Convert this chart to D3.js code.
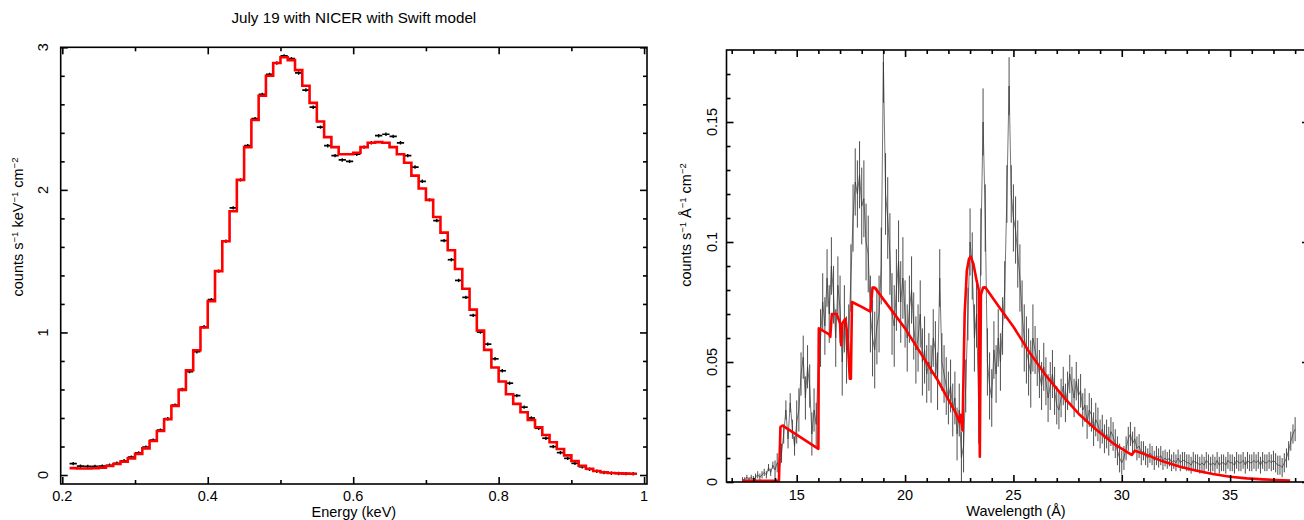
<!DOCTYPE html>
<html><head><meta charset="utf-8">
<script src="https://cdn.jsdelivr.net/npm/d3@7"></script>
<style>
body{margin:0;background:#fff;}
svg{display:block;}
text{font-family:"Liberation Sans",Arial,Helvetica,sans-serif;fill:#000;}
</style>
</head><body>
<svg id="c" width="1304" height="520"></svg>
<script>
// ---------------- LEFT PANEL DATA (NICER, energy bins) ----------------
const titleText = "July 19 with NICER with Swift model";
const energyBinLo = [0.21,0.22,0.23,0.24,0.25,0.26,0.27,0.28,0.29,0.30,0.31,0.32,0.33,0.34,0.35,0.36,0.37,0.38,0.39,0.40,
  0.41,0.42,0.43,0.44,0.45,0.46,0.47,0.48,0.49,0.50,0.51,0.52,0.53,0.54,0.55,0.56,0.57,0.58,0.59,0.60,
  0.61,0.62,0.63,0.64,0.65,0.66,0.67,0.68,0.69,0.70,0.71,0.72,0.73,0.74,0.75,0.76,0.77,0.78,0.79,0.80,
  0.81,0.82,0.83,0.84,0.85,0.86,0.87,0.88,0.89,0.90,0.91,0.92,0.93,0.94,0.95,0.96,0.97,0.98];
const energyBinWidth = 0.01;
const nicerModel = [0.048,0.046,0.046,0.047,0.052,0.063,0.077,0.094,0.117,0.148,0.187,0.239,0.309,0.391,0.485,0.597,0.735,0.875,1.035,1.22,
  1.43,1.64,1.85,2.07,2.30,2.49,2.66,2.80,2.89,2.93,2.91,2.84,2.73,2.61,2.48,2.37,2.30,2.25,2.25,2.26,
  2.30,2.33,2.335,2.33,2.30,2.25,2.19,2.10,2.01,1.93,1.81,1.70,1.576,1.445,1.307,1.16,1.014,0.878,0.754,0.656,
  0.567,0.499,0.44,0.386,0.335,0.281,0.23,0.183,0.138,0.098,0.065,0.044,0.028,0.019,0.014,0.012,0.010,0.009];
const nicerData = [0.08,0.062,0.060,0.060,0.062,0.068,0.082,0.10,0.125,0.155,0.195,0.245,0.315,0.395,0.49,0.60,0.725,0.865,1.04,1.23,
  1.43,1.64,1.874,2.07,2.31,2.50,2.67,2.81,2.89,2.94,2.92,2.82,2.70,2.58,2.44,2.31,2.24,2.21,2.20,2.25,
  2.30,2.33,2.38,2.39,2.375,2.33,2.24,2.16,2.06,1.93,1.785,1.644,1.51,1.365,1.246,1.12,1.003,0.918,0.815,0.731,
  0.644,0.557,0.476,0.40,0.328,0.258,0.199,0.157,0.117,0.082,0.058,0.040,0.027,0.018,0.013,0.011,0.010,0.009];
const nicerErr = 0.012;
const leftXTicks = [0.2,0.4,0.6,0.8,1.0], leftXLabels = ["0.2","0.4","0.6","0.8","1"];
const leftXMinor = [0.3,0.5,0.7,0.9];
const leftYTicks = [0,1,2,3], leftYLabels = ["0","1","2","3"];
const leftYMinor = [0.2,0.4,0.6,0.8,1.2,1.4,1.6,1.8,2.2,2.4,2.6,2.8];

// ---------------- RIGHT PANEL DATA (Swift / grating, wavelength) ----------------
const grayStart = 12.5, grayStep = 0.1;
const grayFlux = [
 0.001,0.001,0.002,0.001,0.002,0.001,0.002,0.003,0.002,0.003,
 0.004,0.003,0.006,0.004,0.007,0.005,0.008,0.006,
 0.012,0.020,0.030,0.018,0.033,0.022,0.015,0.025,
 0.030,0.045,0.052,0.035,0.048,0.040,0.020,0.030,0.024,0.050,
 0.060,0.075,0.065,0.085,0.070,0.090,0.078,0.060,0.082,0.072,
 0.050,0.068,0.055,0.060,0.085,0.110,0.125,0.120,0.128,0.115,
 0.118,0.100,0.095,0.070,0.060,0.055,0.065,0.070,0.090,0.175,
 0.120,0.110,0.095,0.070,0.065,0.080,0.092,0.075,0.085,0.070,
 0.060,0.072,0.080,0.065,0.055,0.060,0.070,0.050,0.055,0.045,
 0.050,0.045,0.060,0.055,0.042,0.085,0.050,0.045,0.040,0.035,
 0.040,0.030,0.035,0.020,0.030,0.010,0.015,0.040,0.070,0.100,
 0.090,0.060,0.070,0.030,0.100,0.150,0.110,0.050,0.040,0.035,
 0.055,0.045,0.060,0.050,0.065,0.080,0.120,0.165,0.120,0.110,
 0.105,0.095,0.085,0.070,0.060,0.055,0.050,0.045,0.060,0.055,
 0.050,0.045,0.040,0.048,0.042,0.035,0.040,0.045,0.038,0.032,
 0.030,0.035,0.040,0.033,0.038,0.045,0.040,0.035,0.042,0.036,
 0.038,0.030,0.032,0.025,0.030,0.028,0.022,0.026,0.024,0.020,
 0.022,0.018,0.020,0.017,0.021,0.019,0.016,0.013,0.010,0.008,
 0.010,0.014,0.018,0.020,0.016,0.018,0.014,0.015,0.012,0.013,
 0.011,0.010,0.012,0.011,0.009,0.011,0.010,0.011,0.009,0.010,
 0.009,0.010,0.008,0.009,0.008,0.010,0.008,0.009,0.009,0.008,
 0.008,0.007,0.009,0.008,0.008,0.007,0.008,0.007,0.009,0.008,
 0.007,0.008,0.007,0.009,0.007,0.008,0.008,0.007,0.009,0.008,
 0.008,0.007,0.009,0.008,0.008,0.009,0.007,0.009,0.008,0.008,
 0.009,0.008,0.009,0.007,0.009,0.008,0.008,0.009,0.008,0.009,
 0.008,0.007,0.007,0.006,0.008,0.010,0.013,0.017,0.020,0.022];
const grayErrByAngstrom = [0.001,0.0015,0.004,0.009,0.012,0.014,0.016,0.017,0.014,0.012,0.011,0.014,0.012,0.014,0.010,0.008,0.007,0.006,0.005,0.004,0.0035,0.0035,0.0035,0.0035,0.0035,0.004,0.005]; // from 12 A
const modelWave = [12.5,14.18,14.25,14.35,16.0,16.02,16.5,16.55,16.62,16.85,17.0,17.05,17.1,17.25,17.35,17.45,17.5,17.55,18.0,18.4,18.5,18.6,
  20.0,21.5,22.35,22.5,22.55,22.65,22.75,22.85,22.95,23.03,23.15,23.3,23.4,23.45,23.5,23.6,23.7,24.38,25.0,25.77,26.54,27.3,28.07,28.84,29.6,
  30.46,30.6,31.15,31.92,32.69,33.46,34.2,35.0,35.77,36.5,37.77];
const modelFlux = [0.0005,0.0005,0.023,0.0235,0.0138,0.064,0.0615,0.0605,0.070,0.070,0.066,0.057,0.066,0.068,0.060,0.043,0.043,0.075,0.073,0.071,0.081,0.081,
  0.064,0.0425,0.0286,0.025,0.028,0.0215,0.070,0.088,0.093,0.0939,0.091,0.084,0.080,0.0105,0.078,0.081,0.0811,0.0724,0.0647,0.0536,0.0439,0.0356,0.0279,0.0217,0.0161,
  0.0113,0.013,0.0113,0.0085,0.0064,0.0047,0.0033,0.0022,0.0015,0.0011,0.0006];
const rightXTicks = [15,20,25,30,35];
const rightXMinor = [12,13,14,16,17,18,19,21,22,23,24,26,27,28,29,31,32,33,34,36,37,38];
const rightYTicks = [0,0.05,0.1,0.15], rightYLabels = ["0","0.05","0.1","0.15"];
const rightYMinor = [0.01,0.02,0.03,0.04,0.06,0.07,0.08,0.09,0.11,0.12,0.13,0.14,0.16,0.17];

// ---------------- DRAWING ----------------
const svg = d3.select("#c");
const FONT = 14.5;

const L = {x0:60.7, x1:647, y0:47.3, y1:484};
const R = {x0:726.5, x1:1309, y0:50, y1:482};
const xL = d3.scaleLinear().domain([0.1978,1.004]).range([L.x0,L.x1]);
const yL = d3.scaleLinear().domain([-0.063,3.0]).range([L.y1,L.y0]);
const xR = d3.scaleLinear().domain([11.76,38.64]).range([R.x0,R.x1]);
const yR = d3.scaleLinear().domain([0,0.18]).range([R.y1,R.y0]);

function frame(P, xs, ys, xMaj, xMin, yMaj, yMin){
  const g = svg.append("g");
  const sw = 1.6, MJ = 7, MN = 4;
  const addAxis = (axisFn, scale, vals, size, tr) => {
    const a = g.append("g").attr("transform", tr)
      .call(axisFn(scale).tickValues(vals).tickSize(size).tickFormat(""));
    a.select(".domain").remove();
    a.selectAll(".tick line").attr("stroke","#000").attr("stroke-width",sw);
  };
  addAxis(d3.axisBottom, xs, xMaj, -MJ, `translate(0,${P.y1})`);
  addAxis(d3.axisBottom, xs, xMin, -MN, `translate(0,${P.y1})`);
  addAxis(d3.axisTop, xs, xMaj, -MJ, `translate(0,${P.y0})`);
  addAxis(d3.axisTop, xs, xMin, -MN, `translate(0,${P.y0})`);
  addAxis(d3.axisLeft, ys, yMaj, -MJ, `translate(${P.x0},0)`);
  addAxis(d3.axisLeft, ys, yMin, -MN, `translate(${P.x0},0)`);
  addAxis(d3.axisRight, ys, yMaj, -MJ, `translate(${P.x1},0)`);
  addAxis(d3.axisRight, ys, yMin, -MN, `translate(${P.x1},0)`);
  g.append("rect").attr("x",P.x0).attr("y",P.y0).attr("width",P.x1-P.x0).attr("height",P.y1-P.y0)
    .attr("fill","none").attr("stroke","#000").attr("stroke-width",sw);
}

const defs = svg.append("defs");
defs.append("clipPath").attr("id","clipL").append("rect").attr("x",L.x0).attr("y",L.y0).attr("width",L.x1-L.x0).attr("height",L.y1-L.y0);
defs.append("clipPath").attr("id","clipR").append("rect").attr("x",R.x0).attr("y",R.y0).attr("width",R.x1-R.x0).attr("height",R.y1-R.y0);

// ----- left panel marks -----
const gL = svg.append("g").attr("clip-path","url(#clipL)");
const binsL = energyBinLo.map((e,i)=>({lo:e, hi:e+energyBinWidth, d:nicerData[i], m:nicerModel[i]}));
gL.selectAll("line.h").data(binsL).join("line").attr("class","h")
  .attr("x1",d=>xL(d.lo)).attr("x2",d=>xL(d.hi)).attr("y1",d=>yL(d.d)).attr("y2",d=>yL(d.d))
  .attr("stroke","#000").attr("stroke-width",1.7);
gL.selectAll("line.v").data(binsL).join("line").attr("class","v")
  .attr("x1",d=>xL((d.lo+d.hi)/2)).attr("x2",d=>xL((d.lo+d.hi)/2))
  .attr("y1",d=>yL(d.d-nicerErr)).attr("y2",d=>yL(d.d+nicerErr))
  .attr("stroke","#000").attr("stroke-width",1.4);
const stepPts = [];
binsL.forEach(b=>{ stepPts.push([b.lo,b.m]); stepPts.push([b.hi,b.m]); });
gL.append("path").datum(stepPts)
  .attr("d", d3.line().x(p=>xL(p[0])).y(p=>yL(p[1])))
  .attr("fill","none").attr("stroke","#ff0000").attr("stroke-width",2.6).attr("stroke-linejoin","miter");

frame(L, xL, yL, leftXTicks, leftXMinor, leftYTicks, leftYMinor);

svg.append("text").attr("x",(L.x0+L.x1)/2).attr("y",23).attr("text-anchor","middle").attr("font-size",15.2).text(titleText);
leftXTicks.forEach((t,i)=>svg.append("text").attr("x",xL(t)).attr("y",501).attr("text-anchor","middle").attr("font-size",FONT).text(leftXLabels[i]));
leftYTicks.forEach((t,i)=>svg.append("text").attr("transform",`translate(48,${yL(t)}) rotate(-90)`).attr("text-anchor","middle").attr("font-size",FONT).text(leftYLabels[i]));
svg.append("text").attr("x",(L.x0+L.x1)/2).attr("y",517).attr("text-anchor","middle").attr("font-size",FONT).text("Energy (keV)");

function supLabel(x, y, parts){
  const t = svg.append("text").attr("transform",`translate(${x},${y}) rotate(-90)`).attr("text-anchor","middle").attr("font-size",FONT);
  parts.forEach(p=>{
    if (p.sup) t.append("tspan").attr("font-size",9.5).attr("dy",-5).text(p.t);
    else t.append("tspan").attr("dy", p.after ? 5 : 0).text(p.t);
  });
}
supLabel(23, 227, [{t:"counts s"},{t:"\u22121",sup:true},{t:" keV",after:true},{t:"\u22121",sup:true},{t:" cm",after:true},{t:"\u22122",sup:true}]);

// ----- right panel marks -----
const gR = svg.append("g").attr("clip-path","url(#clipR)");
const grayPts = grayFlux.map((v,i)=>{
  const w = grayStart + i*grayStep;
  const e = grayErrByAngstrom[Math.min(grayErrByAngstrom.length-1, Math.max(0, Math.floor(w)-12))];
  return {w, v, e};
});
gR.selectAll("line.eb").data(grayPts).join("line").attr("class","eb")
  .attr("x1",d=>xR(d.w)).attr("x2",d=>xR(d.w)).attr("y1",d=>yR(d.v-d.e)).attr("y2",d=>yR(d.v+d.e))
  .attr("stroke","#222").attr("stroke-width",1).attr("stroke-opacity",0.8);
gR.append("path").datum(grayPts)
  .attr("d", d3.line().x(d=>xR(d.w)).y(d=>yR(d.v)))
  .attr("fill","none").attr("stroke","#333").attr("stroke-width",0.9).attr("stroke-opacity",0.75);
gR.append("path").datum(modelWave.map((w,i)=>[w,modelFlux[i]]))
  .attr("d", d3.line().x(p=>xR(p[0])).y(p=>yR(p[1])))
  .attr("fill","none").attr("stroke","#ff0000").attr("stroke-width",2.6).attr("stroke-linejoin","round");

frame(R, xR, yR, rightXTicks, rightXMinor, rightYTicks, rightYMinor);

rightXTicks.forEach(t=>svg.append("text").attr("x",xR(t)).attr("y",500).attr("text-anchor","middle").attr("font-size",FONT).text(String(t)));
rightYTicks.forEach((t,i)=>svg.append("text").attr("transform",`translate(717,${yR(t)}) rotate(-90)`).attr("text-anchor","middle").attr("font-size",FONT).text(rightYLabels[i]));
svg.append("text").attr("x",1016).attr("y",516).attr("text-anchor","middle").attr("font-size",FONT).text("Wavelength (\u00c5)");
supLabel(691, 225, [{t:"counts s"},{t:"\u22121",sup:true},{t:" \u00c5",after:true},{t:"\u22121",sup:true},{t:" cm",after:true},{t:"\u22122",sup:true}]);
</script>
</body></html>
